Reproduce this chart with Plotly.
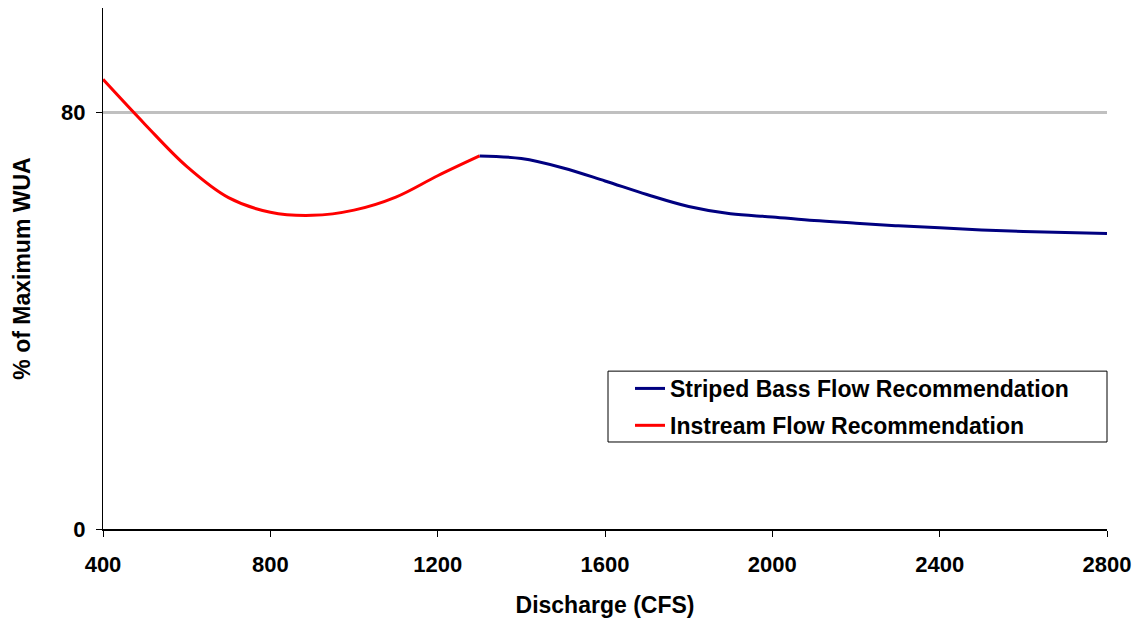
import plotly.graph_objects as go

# Discharge (CFS) and % of Maximum WUA
instream_x = [400, 500, 600, 700, 800, 900, 1000, 1100, 1200, 1300]
instream_y = [86.3, 77.7, 69.6, 63.6, 60.8, 60.2, 61.2, 63.7, 67.8, 71.6]

striped_x = [1300, 1400, 1500, 1600, 1700, 1800, 1900, 2000, 2100, 2200,
             2300, 2400, 2500, 2600, 2700, 2800]
striped_y = [71.6, 71.1, 69.3, 66.8, 64.2, 61.9, 60.5, 59.9, 59.2, 58.7,
             58.2, 57.8, 57.4, 57.1, 56.9, 56.7]

x_ticks = [400, 800, 1200, 1600, 2000, 2400, 2800]
y_ticks = [0, 80]

FONT = "Liberation Sans, Arial, sans-serif"

fig = go.Figure()
fig.add_trace(go.Scatter(
    x=striped_x, y=striped_y, mode="lines",
    name="Striped Bass Flow Recommendation", legendgroup="a",
    line=dict(color="#000080", width=3, shape="spline", smoothing=1.0),
))
fig.add_trace(go.Scatter(
    x=instream_x, y=instream_y, mode="lines",
    name="Instream Flow Recommendation", legendgroup="b",
    line=dict(color="#FF0000", width=3, shape="spline", smoothing=1.0),
))

# legend frame
fig.add_shape(type="rect", xref="paper", yref="paper",
              x0=0.503, x1=1.0, y0=0.167, y1=0.303,
              line=dict(color="black", width=1), fillcolor="rgba(0,0,0,0)",
              layer="above")

fig.update_layout(
    width=1133, height=613,
    margin=dict(l=95, r=34, t=0, b=92),
    paper_bgcolor="white", plot_bgcolor="white",
    font=dict(family=FONT, color="black", size=22),
    showlegend=True,
    legend=dict(
        x=0.503, xanchor="left", y=0.311, yanchor="top",
        borderwidth=0, bgcolor="rgba(255,255,255,0)",
        font=dict(family=FONT, size=23, color="black", weight="bold"),
        tracegroupgap=4, indentation=22,
    ),
    xaxis=dict(
        range=[400, 2800], tickvals=x_ticks, ticktext=[str(v) for v in x_ticks],
        showgrid=False, zeroline=False,
        showline=True, linecolor="black", linewidth=1.5,
        ticks="outside", ticklen=6, tickcolor="black",
        tickfont=dict(family=FONT, size=22, weight="bold"),
        ticklabelstandoff=9,
        title=dict(text="Discharge (CFS)", font=dict(family=FONT, size=23, weight="bold"), standoff=21),
    ),
    yaxis=dict(
        range=[0, 100], tickvals=y_ticks, ticktext=[str(v) for v in y_ticks],
        showgrid=True, gridcolor="#C0C0C0", gridwidth=3,
        zeroline=False,
        showline=True, linecolor="black", linewidth=1,
        ticks="outside", ticklen=6, tickcolor="black",
        tickfont=dict(family=FONT, size=22, weight="bold"),
        ticklabelstandoff=6,
        title=dict(text="% of Maximum WUA", font=dict(family=FONT, size=23, weight="bold"), standoff=24),
    ),
)

fig.write_html("out.html")
